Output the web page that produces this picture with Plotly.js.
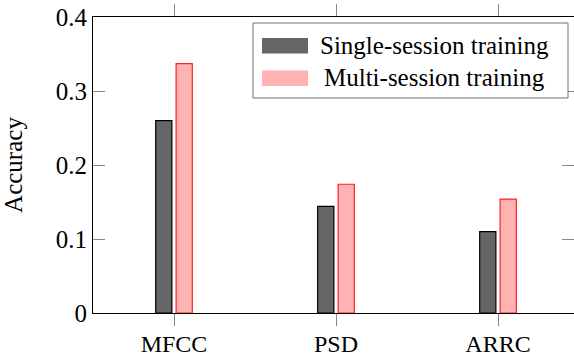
<!DOCTYPE html>
<html>
<head>
<meta charset="utf-8">
<script src="https://cdn.plot.ly/plotly-3.0.1.min.js"></script>
</head>
<body style="margin:0">
<div id="chart" style="width:574px;height:357px"></div>
<script>
// Data
const categories = ["MFCC", "PSD", "ARRC"];
const singleSession = [0.260, 0.144, 0.110];
const multiSession = [0.337, 0.174, 0.154];
const seriesNames = ["Single-session training", "Multi-session training"];
const yTickVals = [0, 0.1, 0.2, 0.3, 0.4];
const yTickText = ["0", "0.1", "0.2", "0.3", "0.4"];

const grayFill = "#666666", grayLine = "#000000";
const pinkFill = "#ffb3b3", pinkLine = "#ff2020";
const serifFamily = "serif";

const W = 574, H = 357;
const mL = 93, mR = 0, mT = 17, mB = 44;
const pw = W - mL - mR, ph = H - mT - mB;
const catSpacingPx = 162;
const toPx = x => (x - mL) / pw;
const toPy = y => (H - mB - y) / ph;

const traces = [
  {type: "bar", x: categories, y: singleSession, name: seriesNames[0],
   width: 0.1, offset: -0.113,
   marker: {color: grayFill, line: {color: grayLine, width: 1.2}}, showlegend: false},
  {type: "bar", x: categories, y: multiSession, name: seriesNames[1],
   width: 0.1, offset: 0.013,
   marker: {color: pinkFill, line: {color: pinkLine, width: 1.2}}, showlegend: false}
];

const shapes = [
  {type: "rect", xref: "paper", yref: "paper", x0: toPx(253), x1: toPx(568), y0: toPy(98), y1: toPy(23),
   line: {color: "#707070", width: 1}, fillcolor: "#ffffff", layer: "above"},
  {type: "rect", xref: "paper", yref: "paper", x0: toPx(262), x1: toPx(308), y0: toPy(53.5), y1: toPy(38),
   line: {width: 0}, fillcolor: grayFill, layer: "above"},
  {type: "rect", xref: "paper", yref: "paper", x0: toPx(262), x1: toPx(308), y0: toPy(86), y1: toPy(70.5),
   line: {width: 0}, fillcolor: pinkFill, layer: "above"}
];
const annotations = [
  {xref: "paper", yref: "paper", x: toPx(434), y: toPy(45.5), text: seriesNames[0], showarrow: false,
   xanchor: "center", yanchor: "middle", font: {family: serifFamily, size: 25, color: "#000000"}},
  {xref: "paper", yref: "paper", x: toPx(434), y: toPy(78), text: seriesNames[1], showarrow: false,
   xanchor: "center", yanchor: "middle", font: {family: serifFamily, size: 25, color: "#000000"}}
];

const layout = {
  width: W, height: H,
  margin: {l: mL, r: mR, t: mT, b: mB},
  paper_bgcolor: "#fff", plot_bgcolor: "#fff",
  font: {family: serifFamily, size: 24, color: "#000000"},
  barmode: "overlay",
  showlegend: false,
  xaxis: {
    type: "category", range: [-0.5, -0.5 + pw / catSpacingPx],
    showline: true, linecolor: "#000", linewidth: 1, mirror: "ticks",
    ticks: "outside", ticklen: 12, tickcolor: "#888", tickwidth: 1,
    ticklabelstandoff: -3,
    showgrid: false, zeroline: false,
    tickfont: {family: serifFamily, size: 24, color: "#000000"}
  },
  yaxis: {
    range: [0, 0.4], tickvals: yTickVals, ticktext: yTickText,
    showline: true, linecolor: "#000", linewidth: 1, mirror: "ticks",
    ticks: "inside", ticklen: 12, tickcolor: "#888", tickwidth: 1,
    showgrid: false, zeroline: false,
    tickfont: {family: serifFamily, size: 25, color: "#000000"},
    title: {text: "Accuracy", font: {family: serifFamily, size: 25, color: "#000000"}, standoff: 27}
  },
  shapes: shapes,
  annotations: annotations
};

Plotly.newPlot("chart", traces, layout, {displayModeBar: false});
</script>
</body>
</html>
